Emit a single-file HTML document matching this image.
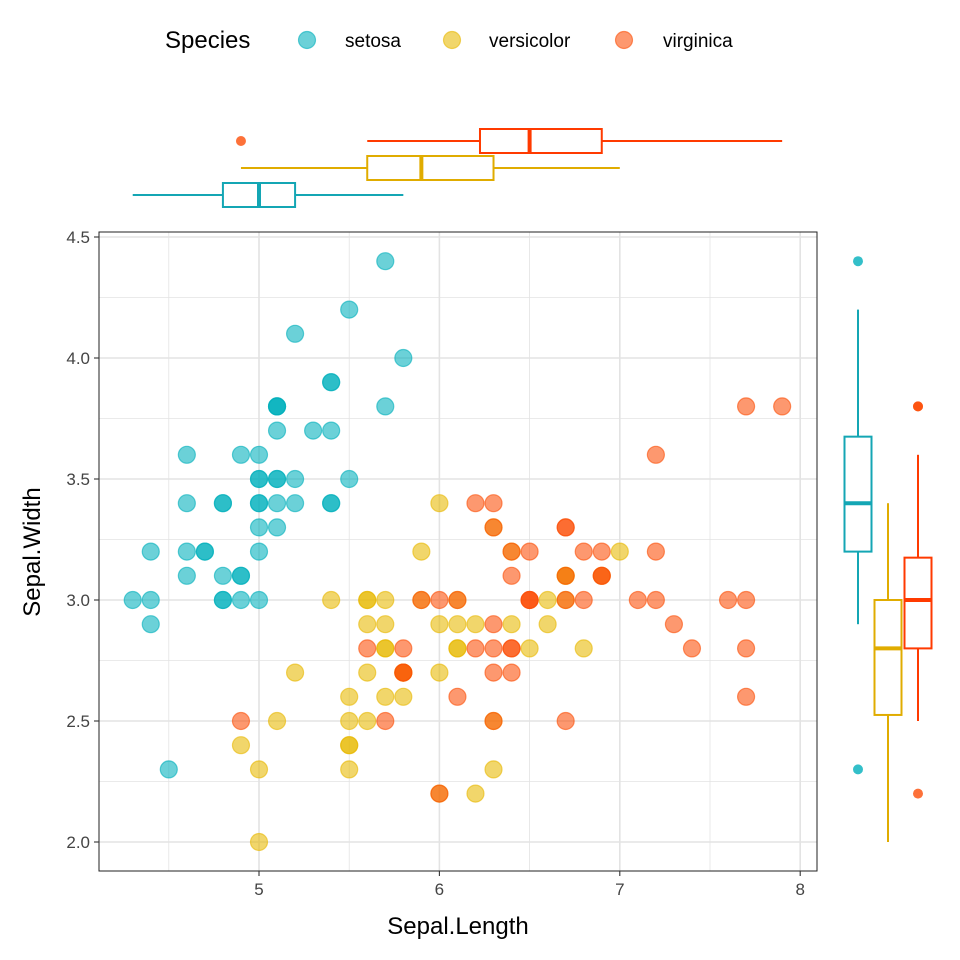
<!DOCTYPE html>
<html><head><meta charset="utf-8"><style>
body{margin:0;background:#fff}
svg{display:block;font-family:"Liberation Sans",Arial,sans-serif}
</style></head><body>
<svg id="c" width="960" height="960" viewBox="0 0 960 960"></svg>
<script>
const species=["setosa","versicolor","virginica"];
const colors=["#00AFBB","#E7B800","#FC4E07"];
const strokeCol=["#14A6B4","#E0AC00","#FF3A00"];
const sepalLength=[
[5.1,4.9,4.7,4.6,5.0,5.4,4.6,5.0,4.4,4.9,5.4,4.8,4.8,4.3,5.8,5.7,5.4,5.1,5.7,5.1,5.4,5.1,4.6,5.1,4.8,5.0,5.0,5.2,5.2,4.7,4.8,5.4,5.2,5.5,4.9,5.0,5.5,4.9,4.4,5.1,5.0,4.5,4.4,5.0,5.1,4.8,5.1,4.6,5.3,5.0],
[7.0,6.4,6.9,5.5,6.5,5.7,6.3,4.9,6.6,5.2,5.0,5.9,6.0,6.1,5.6,6.7,5.6,5.8,6.2,5.6,5.9,6.1,6.3,6.1,6.4,6.6,6.8,6.7,6.0,5.7,5.5,5.5,5.8,6.0,5.4,6.0,6.7,6.3,5.6,5.5,5.5,6.1,5.8,5.0,5.6,5.7,5.7,6.2,5.1,5.7],
[6.3,5.8,7.1,6.3,6.5,7.6,4.9,7.3,6.7,7.2,6.5,6.4,6.8,5.7,5.8,6.4,6.5,7.7,7.7,6.0,6.9,5.6,7.7,6.3,6.7,7.2,6.2,6.1,6.4,7.2,7.4,7.9,6.4,6.3,6.1,7.7,6.3,6.4,6.0,6.9,6.7,6.9,5.8,6.8,6.7,6.7,6.3,6.5,6.2,5.9]];
const sepalWidth=[
[3.5,3.0,3.2,3.1,3.6,3.9,3.4,3.4,2.9,3.1,3.7,3.4,3.0,3.0,4.0,4.4,3.9,3.5,3.8,3.8,3.4,3.7,3.6,3.3,3.4,3.0,3.4,3.5,3.4,3.2,3.1,3.4,4.1,4.2,3.1,3.2,3.5,3.6,3.0,3.4,3.5,2.3,3.2,3.5,3.8,3.0,3.8,3.2,3.7,3.3],
[3.2,3.2,3.1,2.3,2.8,2.8,3.3,2.4,2.9,2.7,2.0,3.0,2.2,2.9,2.9,3.1,3.0,2.7,2.2,2.5,3.2,2.8,2.5,2.8,2.9,3.0,2.8,3.0,2.9,2.6,2.4,2.4,2.7,2.7,3.0,3.4,3.1,2.3,3.0,2.5,2.6,3.0,2.6,2.3,2.7,3.0,2.9,2.9,2.5,2.8],
[3.3,2.7,3.0,2.9,3.0,3.0,2.5,2.9,2.5,3.6,3.2,2.7,3.0,2.5,2.8,3.2,3.0,3.8,2.6,2.2,3.2,2.8,2.8,2.7,3.3,3.2,2.8,3.0,2.8,3.0,2.8,3.8,2.8,2.8,2.6,3.0,3.4,3.1,3.0,3.1,3.1,3.1,2.7,3.2,3.3,3.0,2.5,3.0,3.4,3.0]];
const xTicks=[5,6,7,8];
const yTicks=[2.0,2.5,3.0,3.5,4.0,4.5];

const NS="http://www.w3.org/2000/svg";
const svg=document.getElementById('c');
function mk(tag,attrs,parent){const e=document.createElementNS(NS,tag);for(const k in attrs)e.setAttribute(k,attrs[k]);(parent||svg).appendChild(e);return e;}
const X=v=>259+(v-5)*180.4;
const Y=v=>842-(v-2)*242;
const P={l:99,r:817,t:232,b:871};

const grid=mk('g',{});


for(let v=4.5;v<=8.01;v+=0.5){const major=Math.abs(v-Math.round(v))<1e-6;
 mk('line',{x1:X(v),x2:X(v),y1:P.t,y2:P.b,stroke:'#e3e3e3','stroke-width':major?1.6:0.8},grid);}
for(let v=2.0;v<=4.51;v+=0.25){const major=Math.abs(v*2-Math.round(v*2))<1e-6;
 mk('line',{x1:P.l,x2:P.r,y1:Y(v),y2:Y(v),stroke:'#e3e3e3','stroke-width':major?1.6:0.8},grid);}

species.forEach((s,i)=>{
 const g=mk('g',{});
 
 
 sepalLength[i].forEach((x,j)=>{
  const c=mk('circle',{cx:X(x),cy:Y(sepalWidth[i][j]),r:8.5,fill:colors[i],'fill-opacity':0.58,stroke:colors[i],'stroke-opacity':0.6,'stroke-width':1.2},g);
  
  
 });
});
const border=mk('rect',{x:P.l,y:P.t,width:P.r-P.l,height:P.b-P.t,fill:'none',stroke:'#222','stroke-width':1});



xTicks.forEach(v=>{
 mk('line',{x1:X(v),x2:X(v),y1:P.b,y2:P.b+5,stroke:'#333','stroke-width':1.1});
 const t=mk('text',{x:X(v),y:P.b+24,'text-anchor':'middle','font-size':17,fill:'#444'});t.textContent=v;
 
 
});
yTicks.forEach(v=>{
 mk('line',{x1:P.l-5,x2:P.l,y1:Y(v),y2:Y(v),stroke:'#333','stroke-width':1.1});
 const t=mk('text',{x:P.l-9,y:Y(v)+6,'text-anchor':'end','font-size':17,fill:'#444'});t.textContent=v.toFixed(1);
 
 
});
const xt=mk('text',{x:458,y:934,'text-anchor':'middle','font-size':24,fill:'#000'});xt.textContent='Sepal.Length';


const yt=mk('text',{x:0,y:0,transform:'translate(40,552) rotate(-90)','text-anchor':'middle','font-size':24,fill:'#000'});yt.textContent='Sepal.Width';



function q(a,p){const s=[...a].sort((x,y)=>x-y);const h=(s.length-1)*p,lo=Math.floor(h),hi=Math.ceil(h);return s[lo]+(s[hi]-s[lo])*(h-lo);}
function stats(a){const q1=q(a,.25),m=q(a,.5),q3=q(a,.75),iqr=q3-q1;
 const inr=a.filter(v=>v>=q1-1.5*iqr&&v<=q3+1.5*iqr);
 return {q1,m,q3,lo:Math.min(...inr),hi:Math.max(...inr),out:a.filter(v=>v<q1-1.5*iqr||v>q3+1.5*iqr)};}

const topY=[195,168,141];
species.forEach((s,i)=>{
 const st=stats(sepalLength[i]),cy=topY[i],h=12,col=strokeCol[i];
 const g=mk('g',{});
 
 
 mk('line',{x1:X(st.lo),x2:X(st.q1),y1:cy,y2:cy,stroke:col,'stroke-width':2},g);
 mk('line',{x1:X(st.q3),x2:X(st.hi),y1:cy,y2:cy,stroke:col,'stroke-width':2},g);
 mk('rect',{x:X(st.q1),y:cy-h,width:X(st.q3)-X(st.q1),height:2*h,fill:'#fff',stroke:col,'stroke-width':2},g);
 mk('line',{x1:X(st.m),x2:X(st.m),y1:cy-h,y2:cy+h,stroke:col,'stroke-width':4},g);
 st.out.forEach(v=>mk('circle',{cx:X(v),cy:cy,r:5,fill:colors[i],'fill-opacity':0.8},g));
});
const rightX=[858,888,918];
species.forEach((s,i)=>{
 const st=stats(sepalWidth[i]),cx=rightX[i],w=13.5,col=strokeCol[i];
 const g=mk('g',{});
 
 
 mk('line',{x1:cx,x2:cx,y1:Y(st.lo),y2:Y(st.q1),stroke:col,'stroke-width':2},g);
 mk('line',{x1:cx,x2:cx,y1:Y(st.q3),y2:Y(st.hi),stroke:col,'stroke-width':2},g);
 mk('rect',{x:cx-w,y:Y(st.q3),width:2*w,height:Y(st.q1)-Y(st.q3),fill:'#fff',stroke:col,'stroke-width':2},g);
 mk('line',{x1:cx-w,x2:cx+w,y1:Y(st.m),y2:Y(st.m),stroke:col,'stroke-width':4},g);
 st.out.forEach(v=>mk('circle',{cx:cx,cy:Y(v),r:5,fill:colors[i],'fill-opacity':0.8},g));
});

const lg=mk('g',{});


const lt=mk('text',{x:165,y:48,'font-size':24,fill:'#000'},lg);lt.textContent='Species';
const lcx=[307,452,624],ltx=[345,489,663];
species.forEach((s,i)=>{
 const e=mk('g',{},lg);
 
 
 mk('circle',{cx:lcx[i],cy:40,r:8.5,fill:colors[i],'fill-opacity':0.58,stroke:colors[i],'stroke-opacity':0.6,'stroke-width':1.2},e);
 const t=mk('text',{x:ltx[i],y:47,'font-size':19,fill:'#000'},e);t.textContent=s;
});
</script>
</body></html>
